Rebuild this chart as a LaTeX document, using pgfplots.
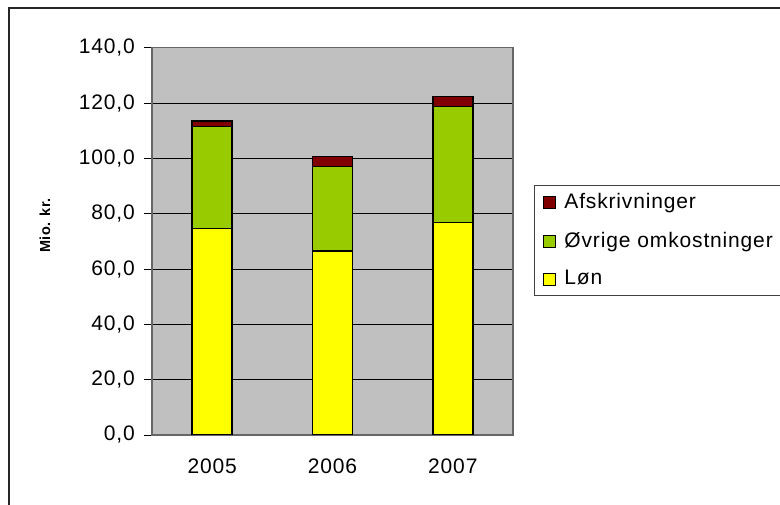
\documentclass[border=0pt]{standalone}
\usepackage{pgfplots}
\pgfplotsset{compat=1.18}
\usepackage{fontspec}
\setmainfont{Liberation Sans}[LetterSpace=4]
\definecolor{plotgray}{RGB}{192,192,192}
\definecolor{afskr}{RGB}{128,0,0}
\definecolor{ovrige}{RGB}{153,204,0}
\definecolor{lon}{RGB}{255,255,0}
\begin{document}
\fontsize{21}{25}\selectfont
\begin{tikzpicture}[x=1pt,y=1pt]
\useasboundingbox (0,0) rectangle (780,504);
\begin{scope}
\clip (0,0) rectangle (780,504);
\draw[black!85, line width=1.5pt] (9,-20) rectangle (820,496);
\begin{axis}[
  at={(152pt,69pt)}, anchor=south west,
  scale only axis, width=361pt, height=387.3pt,
  ybar stacked, bar width=40pt,
  xmin=-0.5, xmax=2.5, ymin=0, ymax=140,
  xtick={0,1,2}, xticklabels={2005,2006,2007},
  minor xtick={-0.5,0.5,1.5,2.5},
  ytick={0,20,...,140},
  tick align=outside, major tick length=8pt, minor tick length=8pt,
  xtick style={draw=none},
  minor tick style={draw=black, line width=0.8pt},
  ytick style={draw=black, line width=0.8pt},
  tick pos=left,
  axis background/.style={fill=plotgray},
  axis line style={draw=black!60, line width=1.5pt},
  ymajorgrids, major grid style={draw=black, line width=0.8pt},
  /pgf/number format/.cd, fixed, fixed zerofill, precision=1, use comma, assume math mode=true,
  /pgfplots/.cd,
  ticklabel style={font=\fontsize{21}{25}\selectfont},
  yticklabel style={xshift=-2pt},
  xticklabel style={yshift=-9pt},
  legend style={at={(1.058,0.6455)}, anchor=north west, draw=black!75, line width=1pt,
    fill=white, font=\fontsize{21}{25}\selectfont, inner xsep=9pt, inner ysep=7pt,
    row sep=18pt, /tikz/column 1/.style={column sep=7pt},
    nodes={text width=250pt, inner sep=1pt}},
  legend cell align=left,
  reverse legend,
  legend image code/.code={\draw[#1, draw=black, line width=1pt] (0pt,-6pt) rectangle (12pt,6pt);},
]
\addplot[fill=lon, draw=black, line width=1.6pt] coordinates {(0,74.7) (1,66.6) (2,76.8)};
\addplot[fill=ovrige, draw=black, line width=1.6pt] coordinates {(0,36.8) (1,30.5) (2,42.0)};
\addplot[fill=afskr, draw=black, line width=1.6pt] coordinates {(0,2.1) (1,3.5) (2,3.6)};
\legend{Løn, Øvrige omkostninger, Afskrivninger}
\end{axis}
\node[rotate=90] at (45,278.5) {\fontsize{14.5}{17}\selectfont\bfseries Mio. kr.};
\end{scope}
\end{tikzpicture}
\end{document}
